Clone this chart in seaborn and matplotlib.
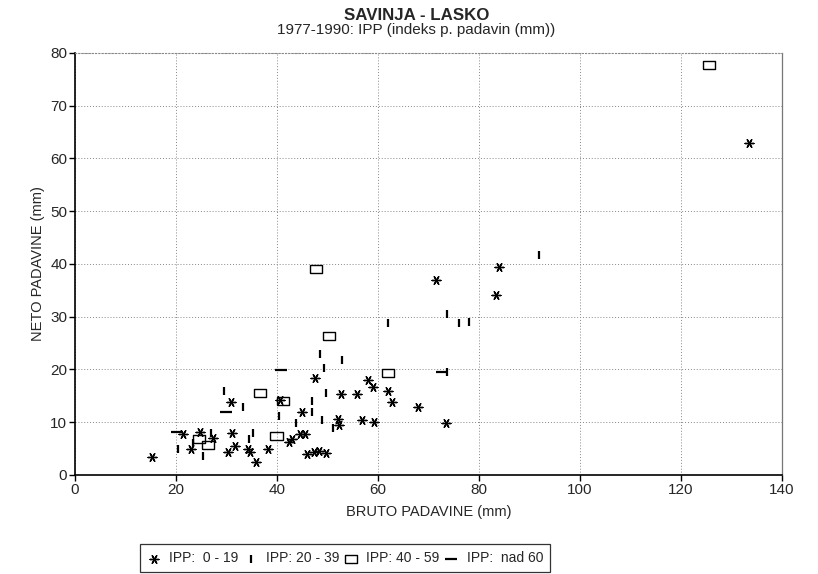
import matplotlib
matplotlib.use("Agg")
import matplotlib.pyplot as plt
import seaborn as sns
import pandas as pd

# ---- data ----
ipp_0_19_x = [15.2, 21.4, 24.8, 23.0, 27.3, 30.9, 31.0, 30.2, 31.7, 34.2, 34.7, 38.3, 35.8,
              40.6, 42.4, 43.0, 44.6, 45.5, 44.9, 47.5, 46.0, 47.3, 48.3, 49.8, 52.7, 55.8,
              52.0, 52.3, 56.9, 59.3, 58.0, 59.1, 61.9, 62.7, 67.9, 71.5, 73.5, 83.4, 83.9,
              133.5]
ipp_0_19_y = [3.5, 7.7, 8.2, 5.0, 7.1, 13.8, 8.0, 4.3, 5.5, 5.0, 4.3, 5.0, 2.5,
              14.2, 6.3, 6.8, 7.7, 7.7, 12.0, 18.3, 4.0, 4.4, 4.5, 4.2, 15.3, 15.3,
              10.6, 9.4, 10.4, 10.1, 18.1, 16.7, 15.9, 13.9, 12.9, 36.9, 9.9, 34.1, 39.5,
              63.0]

ipp_20_39_x = [20.4, 23.3, 25.4, 26.9, 29.6, 33.3, 34.4, 35.2, 40.3, 43.8, 46.9, 46.9, 49.0,
               51.0, 49.7, 49.4, 48.5, 52.9, 62.0, 73.7, 76.1, 78.1, 73.7, 91.9]
ipp_20_39_y = [5.0, 6.0, 3.6, 7.9, 16.0, 12.8, 6.9, 7.9, 11.2, 9.9, 14.0, 11.9, 10.4,
               9.0, 15.5, 20.3, 23.0, 21.8, 28.8, 30.6, 28.8, 29.0, 19.6, 41.7]

ipp_40_59_x = [24.6, 26.3, 36.6, 39.9, 41.2, 47.8, 50.2, 62.0, 125.6]
ipp_40_59_y = [6.8, 5.7, 15.6, 7.3, 14.1, 39.0, 26.3, 19.4, 77.8]

ipp_60_x = [20.1, 29.8, 40.8, 72.6]
ipp_60_y = [8.1, 11.9, 19.9, 19.6]

labels = ["IPP:  0 - 19", "IPP: 20 - 39", "IPP: 40 - 59", "IPP:  nad 60"]
x_ticks = [0, 20, 40, 60, 80, 100, 120, 140]
y_ticks = [0, 10, 20, 30, 40, 50, 60, 70, 80]

# ---- style ----
sns.set_theme(style="white")
plt.rcParams["font.family"] = ["Liberation Sans", "DejaVu Sans"]

fig = plt.figure(figsize=(8.18, 5.74), dpi=100)
ax = fig.add_axes([0.0917, 0.1725, 0.8643, 0.7352])

rect = [(-1.5, -1), (1.5, -1), (1.5, 1), (-1.5, 1), (-1.5, -1)]

groups = [
    (ipp_0_19_x, ipp_0_19_y, labels[0], dict(marker=(6, 2, 30), s=40, linewidth=1.0, color="black")),
    (ipp_20_39_x, ipp_20_39_y, labels[1], dict(marker="|", s=40, linewidth=1.6, color="black")),
    (ipp_40_59_x, ipp_40_59_y, labels[2], dict(marker=rect, s=75, linewidth=1.0,
                                                facecolor="none", edgecolor="black")),
    (ipp_60_x, ipp_60_y, labels[3], dict(marker="_", s=70, linewidth=1.6, color="black")),
]
for xs, ys, lab, kw in groups:
    df = pd.DataFrame({"x": xs, "y": ys})
    sns.scatterplot(data=df, x="x", y="y", ax=ax, label=lab, **kw)

ax.set_xlim(0, 140)
ax.set_ylim(0, 80)
ax.set_xticks(x_ticks)
ax.set_yticks(y_ticks)
ax.grid(True, linestyle=(0, (1, 2)), color="#888888", linewidth=0.7)
ax.set_axisbelow(True)
for side in ["left", "bottom"]:
    ax.spines[side].set_color("black")
    ax.spines[side].set_linewidth(1.2)
ax.spines["top"].set_color("#888888")
ax.spines["top"].set_linestyle((0, (1, 2)))
ax.spines["top"].set_linewidth(0.8)
ax.spines["right"].set_color("#777777")
ax.spines["right"].set_linewidth(0.9)
ax.tick_params(axis="both", which="major", direction="out", length=4.5, width=1,
               color="black", labelsize=11, pad=1,
               bottom=True, left=True)

ax.set_xlabel("BRUTO PADAVINE (mm)", fontsize=10.5, labelpad=6)
ax.set_ylabel("NETO PADAVINE (mm)", fontsize=10.5, labelpad=4)

fig.text(0.509, 0.973, "SAVINJA - LASKO", ha="center", va="center",
         fontsize=12.2, fontweight="bold")
fig.text(0.509, 0.947, "1977-1990: IPP (indeks p. padavin (mm))", ha="center",
         va="center", fontsize=11)

if ax.legend_:
    ax.legend_.remove()
handles, labs = ax.get_legend_handles_labels()
leg = fig.legend(handles, labs, loc="lower center", bbox_to_anchor=(0.422, 0.003),
                 ncol=4, frameon=True, fancybox=False, edgecolor="black",
                 fontsize=10, handletextpad=0.6, columnspacing=0.35,
                 borderpad=0.5, handlelength=1.0, borderaxespad=0)
leg.get_frame().set_linewidth(0.9)

fig.savefig("out.png", dpi=100)
